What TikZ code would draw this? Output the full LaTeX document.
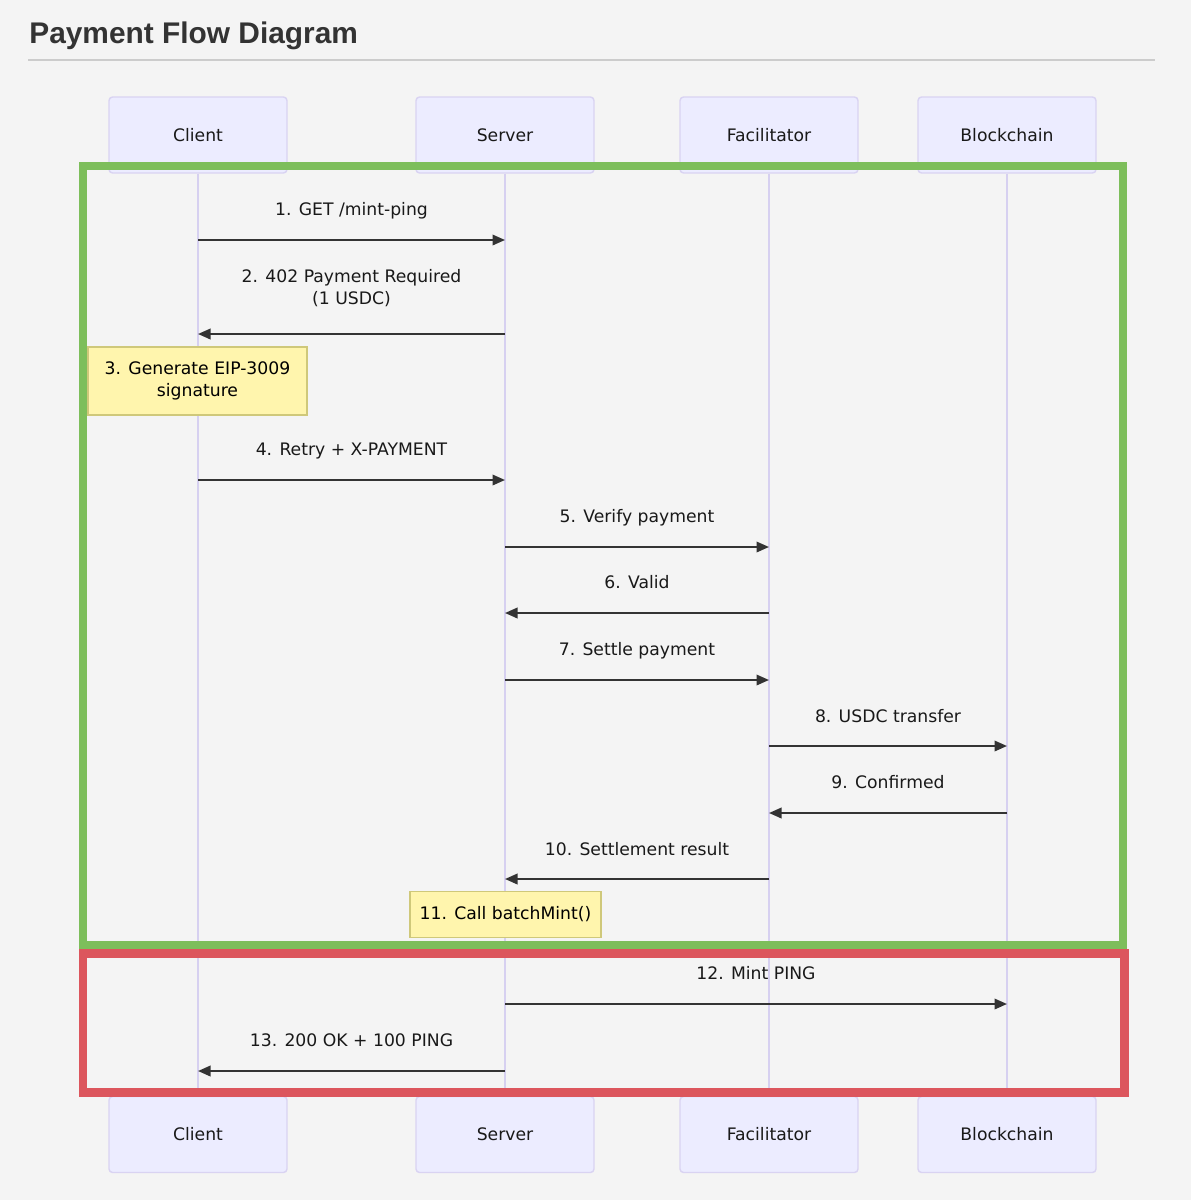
\documentclass[tikz,border=0pt]{standalone}
\usepackage{fontspec}
\setmainfont{DejaVu Sans}
\newfontfamily\headfont{Liberation Sans}
\usetikzlibrary{arrows.meta}
\definecolor{pagebg}{HTML}{F4F4F4}
\definecolor{actorfill}{HTML}{ECECFF}
\definecolor{actorline}{HTML}{D9D3F2}
\definecolor{lifeline}{HTML}{D6D0F0}
\definecolor{notefill}{HTML}{FFF5AD}
\definecolor{noteline}{HTML}{CFC87A}
\definecolor{msgline}{HTML}{333333}
\definecolor{okgreen}{HTML}{7DBE5B}
\definecolor{mintred}{HTML}{DC565D}

\tikzset{
  actor/.style={draw=actorline, fill=actorfill, line width=0.8pt, rounded corners=2pt,
    minimum width=3.56cm, minimum height=1.52cm, text=black!90},
  life/.style={draw=lifeline, line width=0.9pt},
  msg/.style={draw=msgline, line width=1.1pt, -{Triangle[length=2.5mm,width=2.1mm]}},
  lbl/.style={anchor=base, text=black!90},
  note/.style={draw=noteline, fill=notefill, line width=0.6pt, align=center, text=black},
}

\begin{document}
\begin{tikzpicture}[x=0.02cm, y=-0.02cm, font=\fontsize{9.8}{12.5}\selectfont]
\fill[pagebg] (0,0) rectangle (1191,1200);

% title
\node[anchor=base west, inner sep=0pt, text=black!80,
  font=\headfont\bfseries\fontsize{17}{20}\selectfont] (title) at (29,43) {Payment Flow Diagram};
\draw[black!20, line width=0.8pt] (28,60) -- (1155,60);

% participants
\node[actor] (C1) at (198,135) {Client};
\node[actor] (S1) at (505,135) {Server};
\node[actor] (F1) at (769,135) {Facilitator};
\node[actor] (B1) at (1007,135) {Blockchain};

\node[actor] (C2) at (198,1134.5) {Client};
\node[actor] (S2) at (505,1134.5) {Server};
\node[actor] (F2) at (769,1134.5) {Facilitator};
\node[actor] (B2) at (1007,1134.5) {Blockchain};

\path (C1) edge[life] (C2);
\path (S1) edge[life] (S2);
\path (F1) edge[life] (F2);
\path (B1) edge[life] (B2);

% message rows
\coordinate (r1) at (0,240);
\coordinate (r2) at (0,334);
\coordinate (r4) at (0,480);
\coordinate (r5) at (0,547);
\coordinate (r6) at (0,613);
\coordinate (r7) at (0,680);
\coordinate (r8) at (0,746);
\coordinate (r9) at (0,813);
\coordinate (r10) at (0,879);
\coordinate (r12) at (0,1004);
\coordinate (r13) at (0,1071);

\path (C1 |- r1) edge[msg] (S1 |- r1);
\path (S1 |- r2) edge[msg] (C1 |- r2);
\path (C1 |- r4) edge[msg] (S1 |- r4);
\path (S1 |- r5) edge[msg] (F1 |- r5);
\path (F1 |- r6) edge[msg] (S1 |- r6);
\path (S1 |- r7) edge[msg] (F1 |- r7);
\path (F1 |- r8) edge[msg] (B1 |- r8);
\path (B1 |- r9) edge[msg] (F1 |- r9);
\path (F1 |- r10) edge[msg] (S1 |- r10);
\path (S1 |- r12) edge[msg] (B1 |- r12);
\path (S1 |- r13) edge[msg] (C1 |- r13);

\node[lbl] (t1) at (351.5,215.5) {1. GET /mint-ping};
\node[lbl, anchor=center, align=center] (t2) at (351.5,288) {2. 402 Payment Required\\(1 USDC)};
\node[lbl] (t4) at (351.5,455.5) {4. Retry + X-PAYMENT};
\node[lbl] (t5) at (637,522.5) {5. Verify payment};
\node[lbl] (t6) at (637,588.5) {6. Valid};
\node[lbl] (t7) at (637,655.5) {7. Settle payment};
\node[lbl] (t8) at (888,722.5) {8. USDC transfer};
\node[lbl] (t9) at (888,788.5) {9. Confirmed};
\node[lbl] (t10) at (637,855.5) {10. Settlement result};
\node[lbl] (t12) at (756,979.5) {12. Mint PING};
\node[lbl] (t13) at (351.5,1046.5) {13. 200 OK + 100 PING};

% notes
\node[note, minimum width=4.38cm, minimum height=1.36cm] (n3) at (197.5,381) {3. Generate EIP-3009\\signature};
\node[note, minimum width=3.82cm, minimum height=0.92cm] (n11) at (505.5,914.5) {11. Call batchMint()};

% highlight frames
\draw[okgreen, line width=0.16cm] (83,165.5) rectangle (1122.5,945);
\draw[mintred, line width=0.17cm] (83,953.5) rectangle (1124.5,1092.5);
\end{tikzpicture}
\end{document}
